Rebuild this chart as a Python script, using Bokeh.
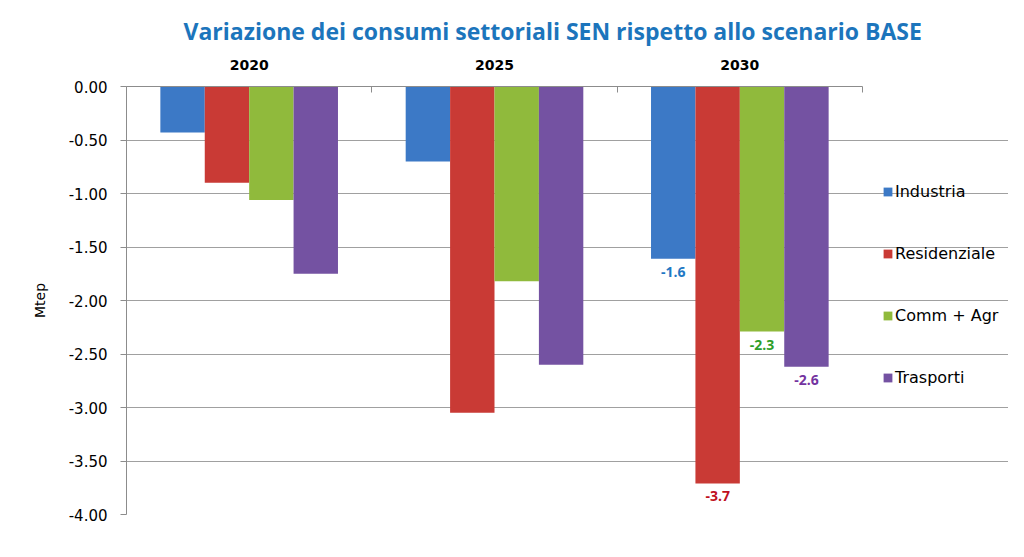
from bokeh.plotting import figure
from bokeh.models import (Range1d, LinearAxis, FixedTicker, NumeralTickFormatter,
                          Legend, LegendItem, ColumnDataSource, Title)
from bokeh.core.properties import value
from bokeh.embed import file_html
from bokeh.resources import INLINE

years = ["2020", "2025", "2030"]
sectors = ["Industria", "Residenziale", "Comm + Agr", "Trasporti"]
industria = [-0.43, -0.70, -1.61]
residenziale = [-0.90, -3.05, -3.71]
comm_agr = [-1.06, -1.82, -2.29]
trasporti = [-1.75, -2.60, -2.62]
labelled_year = "2030"

series = [industria, residenziale, comm_agr, trasporti]
bar_colors = ["#3C79C6", "#C93A35", "#90BA3C", "#7452A2"]
label_colors = ["#1F78C4", "#C0101C", "#2E9E2A", "#7433A0"]

W, H = 1008, 541
left, top, bottom = 126, 86, 27
plot_px = 736  # width of the bar area in pixels
n = len(years)
x_end = n * (W - left) / plot_px

p = figure(width=W, height=H, output_backend="svg", toolbar_location=None,
           x_range=Range1d(0, x_end), y_range=Range1d(-4, 0),
           x_axis_location=None, min_border_left=left, min_border_top=top,
           min_border_bottom=bottom, min_border_right=0)
p.outline_line_color = None
p.background_fill_color = "white"
p.border_fill_color = "white"

bar_w = 0.181
offsets = [-1.5 * bar_w, -0.5 * bar_w, 0.5 * bar_w, 1.5 * bar_w]
items = []
for k, (name, vals) in enumerate(zip(sectors, series)):
    xs = [i + 0.5 + offsets[k] for i in range(n)]
    src = ColumnDataSource(dict(x=xs, top=vals))
    r = p.vbar(x="x", top="top", bottom=0, width=bar_w, source=src,
               fill_color=bar_colors[k], line_color=None)
    items.append(LegendItem(label=name, renderers=[r]))
    j = years.index(labelled_year)
    lsrc = ColumnDataSource(dict(x=[xs[j]], y=[vals[j]], t=[f"{vals[j]:.1f}"]))
    p.text(x="x", y="y", text="t", source=lsrc, text_align="center",
           text_baseline="top", y_offset=8, text_color=label_colors[k],
           text_font=value("Open Sans"), text_font_style="bold",
           text_font_size="14px")

# top axis with years
top_axis = LinearAxis(ticker=FixedTicker(ticks=[i + 0.5 for i in range(n)],
                                         minor_ticks=list(range(n + 1))),
                      bounds=(0, n))
top_axis.major_label_overrides = {i + 0.5: y for i, y in enumerate(years)}
top_axis.major_tick_line_color = None
top_axis.minor_tick_in = 6
top_axis.minor_tick_out = 0
top_axis.minor_tick_line_color = "#8C8C8C"
top_axis.axis_line_color = "#8C8C8C"
top_axis.major_label_text_font = "DejaVu Sans"
top_axis.major_label_text_font_style = "bold"
top_axis.major_label_text_font_size = "14px"
top_axis.major_label_text_color = "#000000"
top_axis.major_label_standoff = 11
p.add_layout(top_axis, "above")

yaxis = p.yaxis[0]
yaxis.ticker = FixedTicker(ticks=[-4 + 0.5 * i for i in range(9)])
yaxis.formatter = NumeralTickFormatter(format="0.00")
yaxis.axis_line_color = "#8C8C8C"
yaxis.major_tick_line_color = "#8C8C8C"
yaxis.major_tick_in = 0
yaxis.major_tick_out = 6
yaxis.minor_tick_line_color = None
yaxis.major_label_text_font = "DejaVu Sans"
yaxis.major_label_text_font_size = "15px"
yaxis.major_label_text_color = "#000000"
yaxis.major_label_standoff = 13
yaxis.axis_label = "Mtep"
yaxis.axis_label_text_font = "DejaVu Sans"
yaxis.axis_label_text_font_style = "normal"
yaxis.axis_label_text_font_size = "14px"
yaxis.axis_label_text_color = "#000000"
yaxis.axis_label_standoff = 18

p.xgrid.visible = False
p.ygrid.ticker = yaxis.ticker
p.ygrid.bounds = (0, n)
p.ygrid.grid_line_color = "#A0A0A0"
p.ygrid.grid_line_width = 1

legend = Legend(items=items, location=(plot_px + 20, 127), orientation="vertical",
                glyph_width=11, glyph_height=11, label_height=20,
                spacing=42, padding=0, margin=0, border_line_color=None,
                background_fill_alpha=0, label_standoff=2,
                label_text_font="DejaVu Sans", label_text_font_size="16px",
                label_text_color="#000000")
p.add_layout(legend, "center")

title = Title(text="Variazione dei consumi settoriali SEN rispetto allo scenario BASE",
              align="left", text_font="Open Sans", text_font_style="bold",
              text_font_size="23px", text_color="#1C75BC", offset=57,
              standoff=20)
p.add_layout(title, "above")

open("out.html", "w").write(file_html(p, INLINE))
